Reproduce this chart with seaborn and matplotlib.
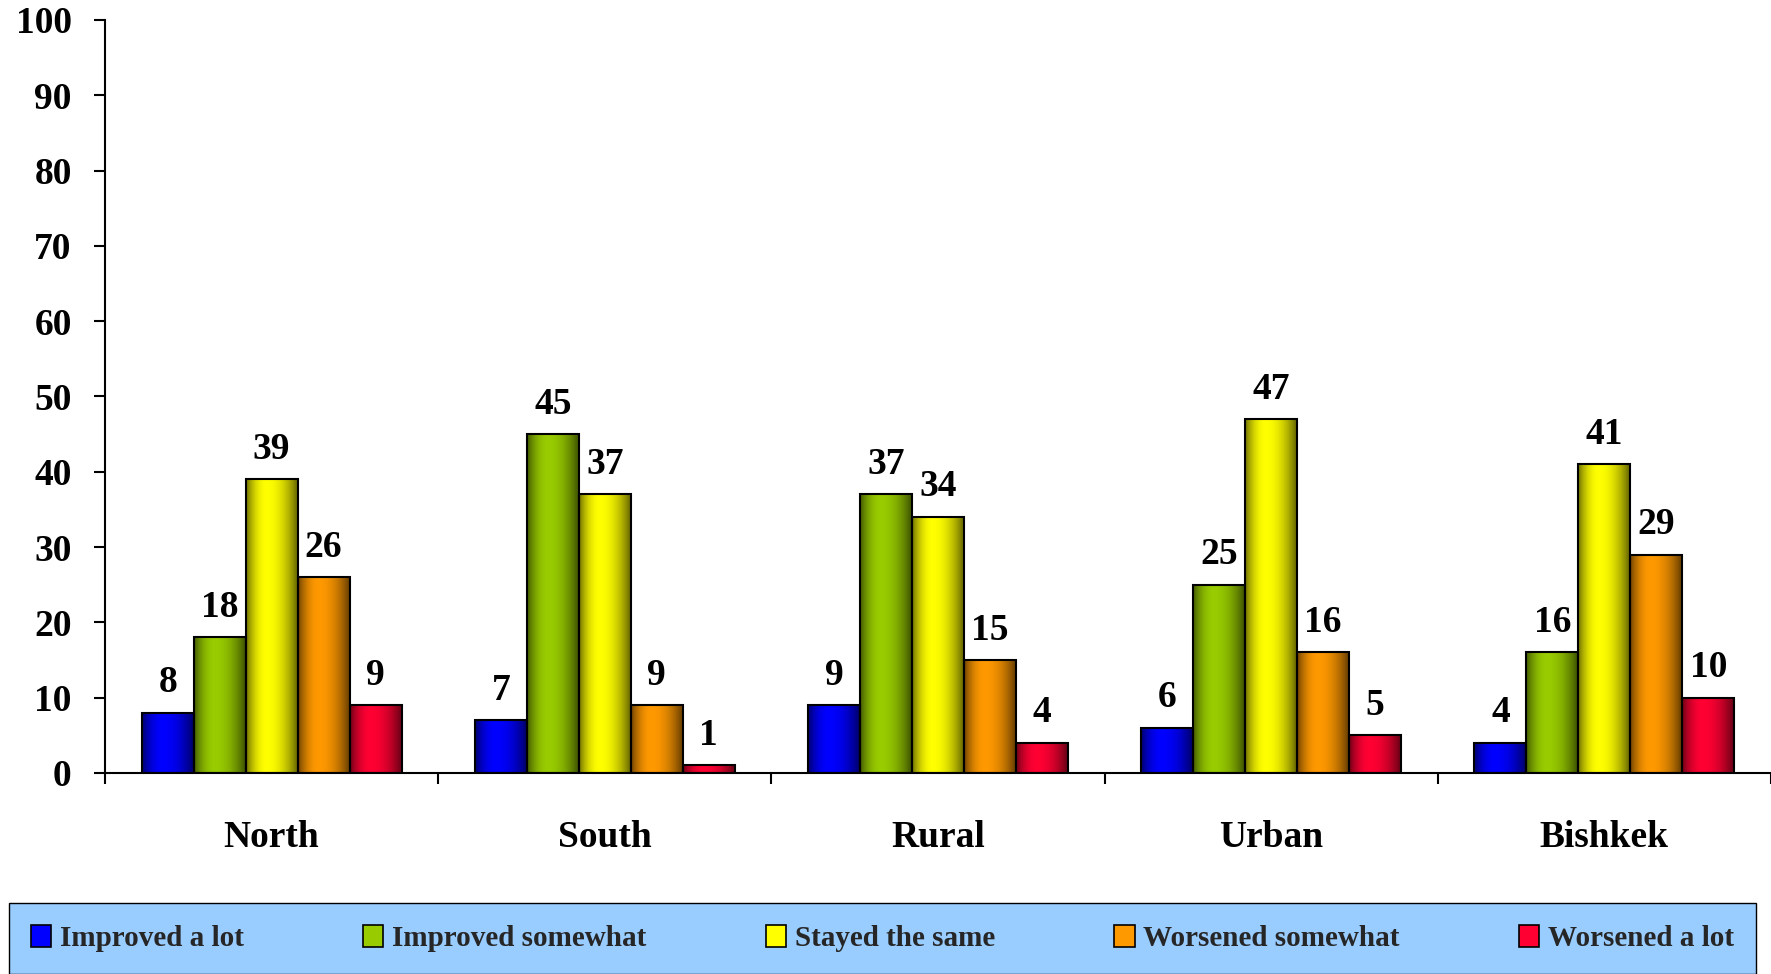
import numpy as np
import pandas as pd
import matplotlib.pyplot as plt
from matplotlib.patches import Patch
import seaborn as sns

regions = ["North", "South", "Rural", "Urban", "Bishkek"]
answers = ["Improved a lot", "Improved somewhat", "Stayed the same",
           "Worsened somewhat", "Worsened a lot"]
improved_lot = [8, 7, 9, 6, 4]
improved_some = [18, 45, 37, 25, 16]
stayed_same = [39, 37, 34, 47, 41]
worsened_some = [26, 9, 15, 16, 29]
worsened_lot = [9, 1, 4, 5, 10]
colors = ["#0000FF", "#99CC00", "#FFFF00", "#FF9900", "#FF0033"]

rows = []
for ans, vals in zip(answers, [improved_lot, improved_some, stayed_same,
                               worsened_some, worsened_lot]):
    for reg, v in zip(regions, vals):
        rows.append({"region": reg, "answer": ans, "pct": v})
df = pd.DataFrame(rows)

sns.set_theme(style="white")
plt.rcParams['font.family'] = ['Liberation Serif', 'DejaVu Serif']
plt.rcParams['font.weight'] = 'bold'

fig = plt.figure(figsize=(17.71, 9.74), dpi=100)
ax = fig.add_axes([0.0593, 0.2064, 0.9407, 0.7731])

sns.barplot(data=df, x="region", y="pct", hue="answer", hue_order=answers,
            palette=colors, saturation=1, width=0.78, edgecolor="black",
            linewidth=1.5, legend=False, ax=ax)

# excel-like cylinder shading on each bar
t = np.linspace(0, 1, 64)
shade = np.where(t < 0.4, 1 - 0.55 * ((0.4 - t) / 0.4) ** 2,
                 1 - 0.6 * ((t - 0.4) / 0.6) ** 2)
for p in ax.patches:
    base = np.array(p.get_facecolor()[:3])
    img = (base[None, :] * shade[:, None])[None, :, :]
    x0, w, h = p.get_x(), p.get_width(), p.get_height()
    ax.imshow(img, extent=[x0, x0 + w, 0, h], aspect='auto',
              interpolation='bilinear', zorder=2)
    p.set_facecolor('none')
    p.set_zorder(3)

for cont in ax.containers:
    ax.bar_label(cont, fmt="%.0f", padding=9, fontsize=27,
                 fontweight='bold', color='black')

ax.set_xlim(-0.5, 4.5)
ax.set_ylim(0, 100)
ax.set_yticks(np.arange(0, 101, 10))
ax.set_xticks(np.arange(-0.5, 5, 1), minor=True)
ax.set_xlabel("")
ax.set_ylabel("")

sns.despine(ax=ax)
for s in ["left", "bottom"]:
    ax.spines[s].set_color("black")
    ax.spines[s].set_linewidth(1.5)

ax.tick_params(axis='y', which='major', direction='out', length=8, width=1.5,
               pad=16, labelsize=27, colors='black', left=True)
ax.tick_params(axis='x', which='major', length=0, pad=34, labelsize=27,
               colors='black')
ax.tick_params(axis='x', which='minor', direction='out', length=8, width=1.5,
               color='black', bottom=True)
for lab in ax.get_xticklabels() + ax.get_yticklabels():
    lab.set_fontweight('bold')

handles = [Patch(facecolor=c, edgecolor='black', linewidth=1.2, label=a)
           for c, a in zip(colors, answers)]
fig.legend(handles=handles, loc='lower left',
           bbox_to_anchor=(0.005, 0.0, 0.9865, 0.075), mode='expand',
           borderaxespad=0, ncol=5, frameon=True, facecolor='#99CCFF',
           edgecolor='black', fancybox=False, framealpha=1, borderpad=0.75,
           handlelength=0.7, handleheight=0.8, handletextpad=0.3,
           prop={'weight': 'bold', 'size': 21})

plt.savefig("out.png", dpi=100)
